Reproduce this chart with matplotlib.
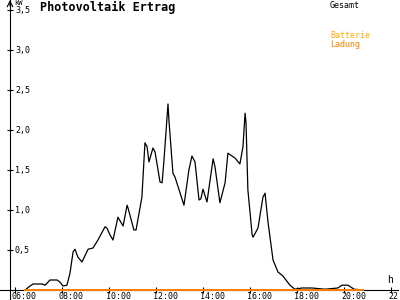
import matplotlib
matplotlib.use("Agg")
import matplotlib.pyplot as plt

# ---- data ----
gesamt_hours = [6.43, 6.64, 6.77, 7.15, 7.28, 7.49, 7.79, 7.91, 8.04, 8.21, 8.34, 8.47,
                8.55, 8.68, 8.85, 8.89, 9.11, 9.32, 9.53, 9.83, 9.91, 10.04, 10.17, 10.38,
                10.60, 10.77, 10.81, 11.06, 11.15, 11.40, 11.53, 11.62, 11.70, 11.87, 11.96,
                12.17, 12.26, 12.34, 12.51, 12.55, 12.72, 12.81, 12.94, 13.19, 13.40, 13.53,
                13.66, 13.83, 13.91, 14.00, 14.17, 14.43, 14.51, 14.72, 14.94, 15.06, 15.36,
                15.57, 15.70, 15.79, 15.83, 15.91, 16.00, 16.09, 16.13, 16.34, 16.55, 16.64,
                16.77, 16.98, 17.19, 17.40, 17.70, 17.91, 18.21, 18.64, 19.19, 19.74, 19.91,
                20.17, 20.43, 20.81]
gesamt_kw = [0.0, 0.05, 0.075, 0.075, 0.06, 0.125, 0.125, 0.10, 0.05, 0.06, 0.21, 0.475,
             0.51, 0.41, 0.35, 0.375, 0.51, 0.525, 0.625, 0.79, 0.775, 0.69, 0.625, 0.91,
             0.80, 1.06, 1.025, 0.75, 0.75, 1.16, 1.84, 1.79, 1.60, 1.775, 1.725,
             1.35, 1.34, 1.625, 2.325, 2.125, 1.46, 1.41, 1.29, 1.06, 1.50, 1.675,
             1.60, 1.125, 1.14, 1.26, 1.10, 1.64, 1.54, 1.09, 1.34, 1.71, 1.65,
             1.575, 1.79, 2.21, 2.09, 1.25, 0.975, 0.69, 0.66, 0.775, 1.16, 1.21,
             0.84, 0.375, 0.225, 0.175, 0.06, 0.01, 0.025, 0.025, 0.01, 0.025, 0.06,
             0.06, 0.01, 0.0]
ladung_hours = [6.43, 20.81]
ladung_kw = [0.0, 0.0]

x_ticks = [6, 8, 10, 12, 14, 16, 18, 20, 22]
x_labels = ["06:00", "08:00", "10:00", "12:00", "14:00", "16:00", "18:00", "20:00", "22:00"]
y_ticks = [0.5, 1.0, 1.5, 2.0, 2.5, 3.0, 3.5]
y_labels = ["0,5", "1,0", "1,5", "2,0", "2,5", "3,0", "3,5"]

title = "Photovoltaik Ertrag"
legend_items = [("Gesamt", "#000000"), ("Batterie", "#FFAA00"), ("Ladung", "#FF8000")]

# ---- layout ----
PXH = 23.5   # pixels per hour
PXV = 80.0   # pixels per kW
X0 = 6 - 5 / PXH

fig = plt.figure(figsize=(4, 3), dpi=100)
ax = fig.add_axes([0, 0, 1, 1])
ax.set_xlim(6 - 15 / PXH, 6 + 385 / PXH)
ax.set_ylim(-10 / PXV, 290 / PXV)
ax.set_facecolor("white")

mono = "DejaVu Sans Mono"

for s in ("top", "right"):
    ax.spines[s].set_visible(False)
ax.spines["left"].set_position(("data", X0))
ax.spines["bottom"].set_position(("data", 0))
for s in ("left", "bottom"):
    ax.spines[s].set_linewidth(0.8)
ax.spines["bottom"].set_bounds(6 - 15 / PXH, 6 + 383 / PXH)

ax.set_xticks(x_ticks)
ax.set_yticks(y_ticks)
ax.tick_params(direction="inout", length=4.5, width=0.8, labelleft=False, labelbottom=False)

for h, lab in zip(x_ticks, x_labels):
    ax.annotate(lab, xy=(h, 0), xytext=(-3, -2), textcoords="offset pixels",
                ha="left", va="top", fontsize=6, family=mono, annotation_clip=False)
for v, lab in zip(y_ticks, y_labels):
    ax.annotate(lab, xy=(X0, v), xytext=(5, 0), textcoords="offset pixels",
                ha="left", va="center", fontsize=6, family=mono)

# arrows
ytop = 290 / PXV
ax.annotate("", xy=(X0, ytop), xytext=(X0, ytop - 6 / PXV),
            arrowprops=dict(arrowstyle="->", lw=0.8, color="black", shrinkA=0, shrinkB=0))
xr = 6 + 389 / PXH
ax.annotate("", xy=(xr, 0), xytext=(xr - 6 / PXH, 0),
            arrowprops=dict(arrowstyle="->", lw=0.8, color="black", shrinkA=0, shrinkB=0))
ax.annotate("kW", xy=(X0, ytop), xytext=(4, 0), textcoords="offset pixels",
            ha="left", va="top", fontsize=5, family=mono)
ax.annotate("h", xy=(22, 0), xytext=(-4, 5), textcoords="offset pixels",
            ha="left", va="bottom", fontsize=7, family=mono)

# series
ax.plot(gesamt_hours, gesamt_kw, color="black", lw=0.9, zorder=3)
ax.plot(ladung_hours, ladung_kw, color="#FF8000", lw=1.4, zorder=4)

fig.text(40 / 400, 1 - 7 / 300, title, fontsize=8.5, fontweight="bold", family=mono,
         ha="left", va="center")
leg_y = [5, 36, 44]
for (lab, col), yy in zip(legend_items, leg_y):
    fig.text(330 / 400, 1 - yy / 300, lab, fontsize=6, family=mono, color=col,
             ha="left", va="center")

fig.savefig("out.png", dpi=100, facecolor="white")
